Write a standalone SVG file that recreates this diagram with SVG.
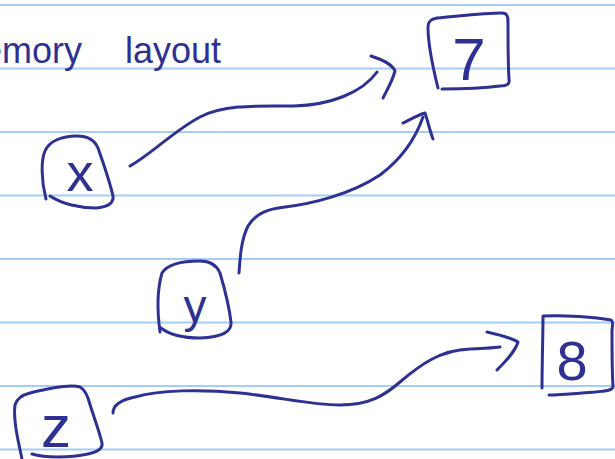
<svg xmlns="http://www.w3.org/2000/svg" width="615" height="459" viewBox="0 0 615 459">
  <style>
    .rule { stroke: #a6cdf8; stroke-width: 2; }
    .ink { fill: none; stroke: #2e3192; stroke-width: 3; stroke-linecap: round; stroke-linejoin: round; }
    .label { fill: #2e3192; font-family: "Liberation Sans", Arial, sans-serif; text-anchor: middle; }
    .title { fill: #2e3192; font-family: "Liberation Sans", Arial, sans-serif; font-size: 36px; }
  </style>

  <!-- ruled paper -->
  <rect width="615" height="459" fill="#ffffff"/>
  <g id="rules">
    <line class="rule" x1="0" y1="5" x2="615" y2="5"/>
    <line class="rule" x1="0" y1="68.5" x2="615" y2="68.5"/>
    <line class="rule" x1="0" y1="132" x2="615" y2="132"/>
    <line class="rule" x1="0" y1="195.5" x2="615" y2="195.5"/>
    <line class="rule" x1="0" y1="259" x2="615" y2="259"/>
    <line class="rule" x1="0" y1="322.5" x2="615" y2="322.5"/>
    <line class="rule" x1="0" y1="386" x2="615" y2="386"/>
    <line class="rule" x1="0" y1="449.5" x2="615" y2="449.5"/>
  </g>

  <!-- heading, running off the left edge -->
  <g id="heading">
    <text class="title" x="82" y="63" text-anchor="end">memory</text>
    <text class="title" x="125" y="63">layout</text>
  </g>

  <!-- variables -->
  <g id="node-x">
    <path class="ink" d="M46,199 C41,180 41,160 45,151 C49,141 62,136 77,136 C88,136 95,141 98,148 C104,165 110,183 113,196 C114,203 108,207 96,208 C80,208 62,204 50,196"/>
    <text class="label" x="80" y="191" font-size="54">x</text>
  </g>
  <g id="node-y">
    <path class="ink" d="M160,332 C157,310 157,290 162,273 C167,265 180,261 200,261 C210,261 217,266 220,273 C225,290 229,305 231,322 C232,332 222,337 200,338 C185,338 170,335 161,328"/>
    <text class="label" x="195" y="322" font-size="46">y</text>
  </g>
  <g id="node-z">
    <path class="ink" d="M22,459 C18,440 13,420 15,405 C17,398 22,395 30,393 C50,388 70,384 80,387 C84,389 86,393 88,398 C93,415 99,430 102,443 C103,449 98,452 88,454 C70,458 45,458 32,454"/>
    <text class="label" x="56" y="447" font-size="60">z</text>
  </g>

  <!-- values -->
  <g id="value-7">
    <path class="ink" d="M438,88 C433,68 428,45 428,27 C428,21 431,19 437,18 C460,16 485,13 502,13 C507,13 508,16 508,22 C508,45 508,65 509,79 C510,84 507,86 500,86 C485,88 460,89 442,89"/>
    <text class="label" x="469" y="80" font-size="60">7</text>
  </g>
  <g id="value-8">
    <path class="ink" d="M542,388 C542,365 543,335 543,316 C565,315 595,317 611,320 C613,321 613,324 612,330 C612,350 612,370 613,387 C612,391 605,391 595,392 C580,393 562,395 549,395"/>
    <text class="label" x="572" y="380" font-size="56">8</text>
  </g>

  <!-- references -->
  <g id="connectors">
    <path class="ink" d="M130,166 C150,155 175,130 200,117 C225,104 260,106 294,106 C330,105 362,93 377,72"/>
    <path class="ink" d="M371,56 C383,60 392,64 395,71 C392,82 387,90 383,98"/>
    <path class="ink" d="M239,273 C240,258 241,240 248,226 C256,213 268,209 285,207 C310,204 350,195 380,175 C400,160 415,140 423,117"/>
    <path class="ink" d="M403,123 C411,119 418,115 425,113 C428,122 430,131 433,139"/>
    <path class="ink" d="M113,413 C113,405 120,400 135,397 C160,390 200,389 240,393 C280,397 310,405 340,405 C370,405 385,395 400,382 C420,365 440,350 470,349 C485,348 495,348 500,347"/>
    <path class="ink" d="M487,332 C500,335 512,338 518,342 C515,352 505,362 497,370"/>
  </g>
</svg>
